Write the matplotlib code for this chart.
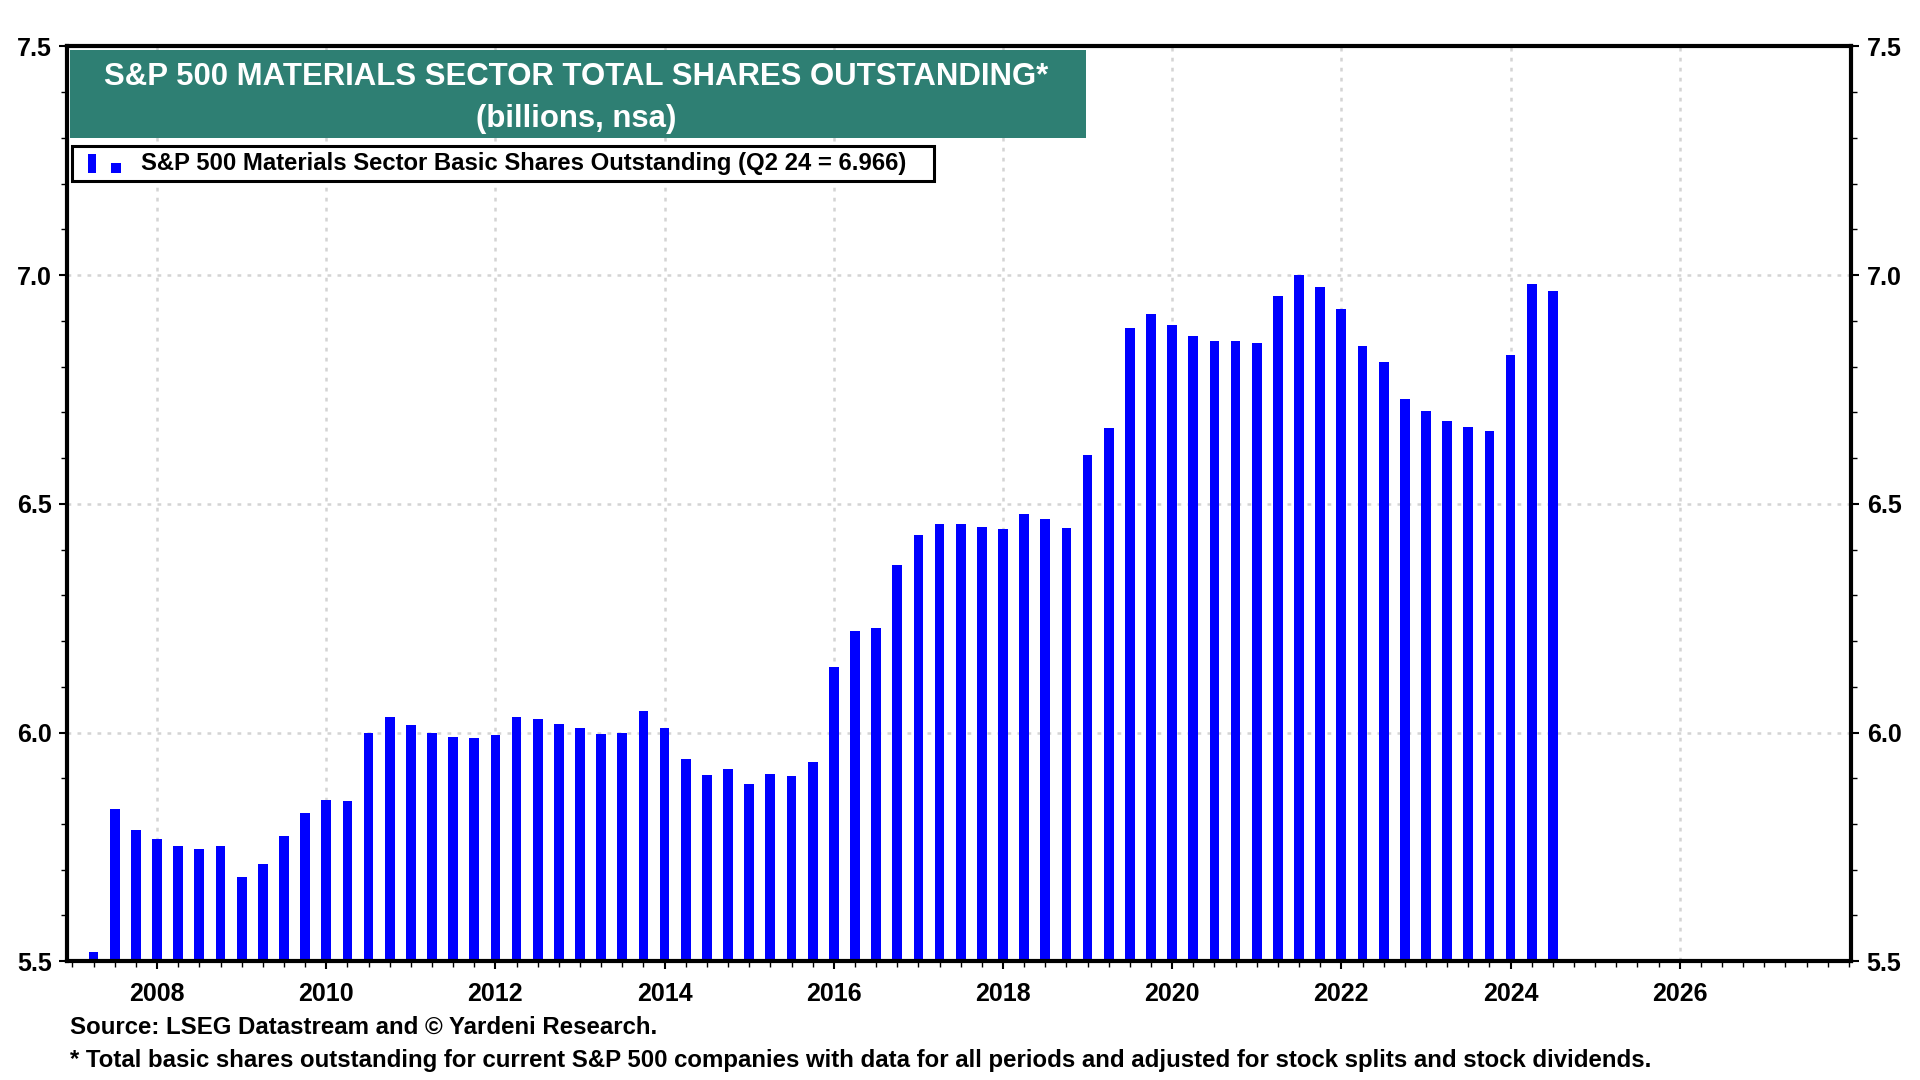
import numpy as np
import matplotlib.pyplot as plt
from matplotlib.patches import Rectangle
from matplotlib.ticker import MultipleLocator

plt.rcParams['font.family'] = ['Liberation Sans', 'DejaVu Sans']
plt.rcParams['font.weight'] = 'bold'

# quarterly data, 2007 Q1 .. 2024 Q2 (billions)
first_year = 2007
valores = [5.52, 5.832, 5.787, 5.768, 5.752, 5.746, 5.752, 5.685, 5.712, 5.773,
           5.824, 5.853, 5.851, 6.000, 6.033, 6.017, 6.000, 5.990, 5.987, 5.995,
           6.035, 6.030, 6.019, 6.009, 5.997, 6.000, 6.046, 6.009, 5.942, 5.907,
           5.920, 5.888, 5.910, 5.905, 5.936, 6.143, 6.223, 6.228, 6.367, 6.432,
           6.456, 6.456, 6.450, 6.445, 6.477, 6.467, 6.448, 6.606, 6.665, 6.884,
           6.916, 6.890, 6.868, 6.855, 6.855, 6.852, 6.954, 7.000, 6.973, 6.927,
           6.844, 6.809, 6.729, 6.702, 6.681, 6.667, 6.659, 6.825, 6.980, 6.966]
anos_label = [2008, 2010, 2012, 2014, 2016, 2018, 2020, 2022, 2024, 2026]

titulo = 'S&P 500 MATERIALS SECTOR TOTAL SHARES OUTSTANDING*\n(billions, nsa)'
legenda = 'S&P 500 Materials Sector Basic Shares Outstanding (Q2 24 = 6.966)'
fonte = 'Source: LSEG Datastream and \u00a9 Yardeni Research.'
nota = '* Total basic shares outstanding for current S&P 500 companies with data for all periods and adjusted for stock splits and stock dividends.'

# bar at end of each quarter
x_barras = first_year + 0.25 * (np.arange(len(valores)) + 1)

fig = plt.figure(figsize=(19.2, 10.8), dpi=100)
ax = fig.add_axes([0.0351, 0.110, 0.9292, 0.847])

ax.bar(x_barras, np.array(valores) - 5.5, bottom=5.5, width=0.115,
       color='#0000FF', zorder=3)

ax.set_xlim(2006.94, 2028.03)
ax.set_ylim(5.5, 7.5)
ax.set_xticks(anos_label)
ax.xaxis.set_minor_locator(MultipleLocator(0.25))
ax.set_yticks([5.5, 6.0, 6.5, 7.0, 7.5])
ax.yaxis.set_major_formatter(plt.FormatStrFormatter('%.1f'))
ax.yaxis.set_minor_locator(MultipleLocator(0.1))

ax.grid(True, which='major', color='#d4d4d4', linestyle=(0, (1.5, 2.5)), linewidth=1.8, zorder=0)

for s in ax.spines.values():
    s.set_linewidth(3)
    s.set_zorder(5)

ax.tick_params(axis='both', which='major', labelsize=18, direction='out', length=6, width=1.5)
ax.tick_params(axis='both', which='minor', direction='out', length=4, width=1)
ax.tick_params(axis='y', which='both', left=True, right=True, labelleft=True, labelright=True, pad=5)
ax.tick_params(axis='x', which='major', pad=9)

# title box
ax.add_patch(Rectangle((0.0015, 0.9), 0.5695, 0.096, transform=ax.transAxes,
                       facecolor='#2E7F73', edgecolor='none', zorder=6))
ax.text(0.285, 0.9435, titulo, transform=ax.transAxes, ha='center', va='center',
        color='white', fontsize=22.4, fontweight='bold', linespacing=1.55, zorder=7)

# legend box
ax.add_patch(Rectangle((0.0025, 0.853), 0.4835, 0.038, transform=ax.transAxes,
                       facecolor='white', edgecolor='black', linewidth=2.2, zorder=6))
ax.add_patch(Rectangle((0.0115, 0.862), 0.0045, 0.02, transform=ax.transAxes,
                       facecolor='#0000FF', edgecolor='none', zorder=7))
ax.add_patch(Rectangle((0.0245, 0.862), 0.0055, 0.011, transform=ax.transAxes,
                       facecolor='#0000FF', edgecolor='none', zorder=7))
ax.text(0.0415, 0.872, legenda, transform=ax.transAxes, ha='left', va='center',
        fontsize=17.2, fontweight='bold', zorder=7)

fig.text(0.0364, 0.049, fonte, ha='left', va='center', fontsize=17.3, fontweight='bold')
fig.text(0.0364, 0.018, nota, ha='left', va='center', fontsize=17.3, fontweight='bold')

fig.savefig('out.png', dpi=100)
